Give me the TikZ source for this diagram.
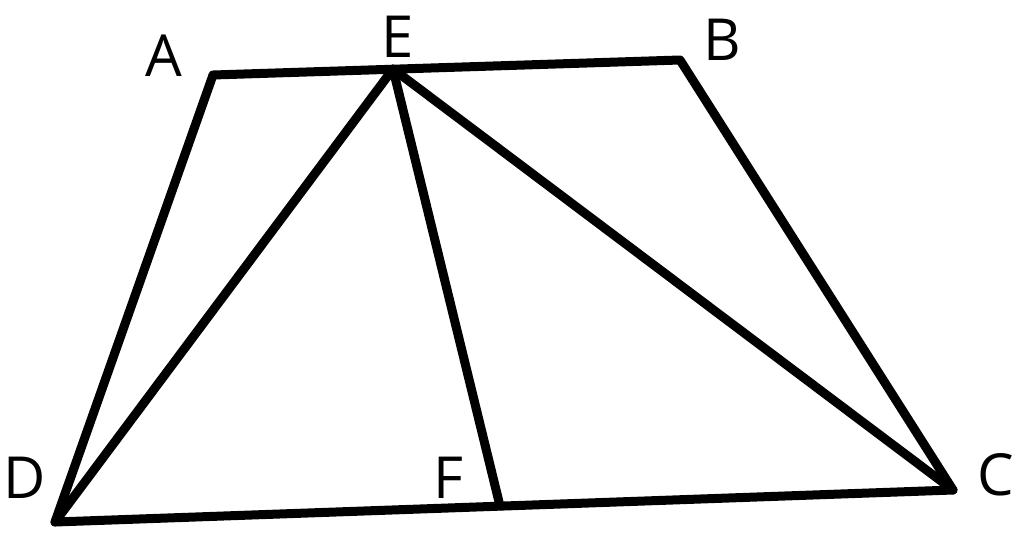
\documentclass[tikz,border=0pt]{standalone}
\usepackage{fontspec}
\setmainfont{Open Sans}
\begin{document}
\begin{tikzpicture}[x=1pt,y=-1pt,
  seg/.style={line width=9pt,line join=round,line cap=round},
  lbl/.style={font=\fontsize{58}{58}\selectfont,inner sep=0pt}]
\useasboundingbox (0,0) rectangle (1024,536);
\coordinate (A) at (213,75);
\coordinate (E) at (393,69);
\coordinate (B) at (680,60);
\coordinate (C) at (953,490);
\coordinate (D) at (55,522);
\coordinate (F) at (500,506);
\draw[seg] (A) -- (B) -- (C) -- (D) -- cycle;
\draw[seg] (D) -- (E) -- (C);
\draw[seg] (E) -- (F);
\node[lbl] (lA) at (164,56) {A};
\node[lbl] (lE) at (398,37) {E};
\node[lbl] (lB) at (722,40) {B};
\node[lbl] (lD) at (25,478) {D};
\node[lbl] (lF) at (448,478) {F};
\node[lbl] (lC) at (996,475) {C};
\end{tikzpicture}
\end{document}
